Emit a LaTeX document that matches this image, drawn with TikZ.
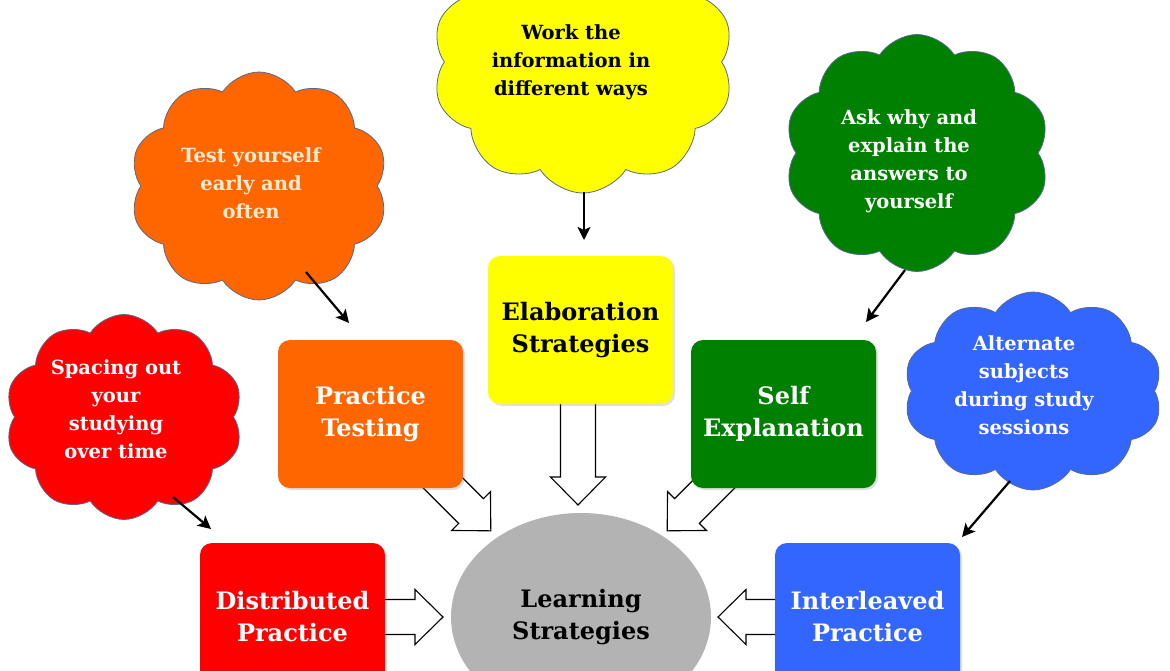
\documentclass[tikz,border=0pt]{standalone}
\usepackage{fontspec}
\setmainfont{DejaVu Serif}
\usetikzlibrary{shapes.symbols,shapes.geometric,arrows.meta,shadows}
\definecolor{cOrange}{RGB}{255,102,0}
\definecolor{cYellow}{RGB}{255,255,0}
\definecolor{cGreen}{RGB}{0,128,0}
\definecolor{cRed}{RGB}{255,0,0}
\definecolor{cBlue}{RGB}{51,102,255}
\definecolor{cGray}{RGB}{179,179,179}
\definecolor{cloudline}{RGB}{85,105,140}
\definecolor{cream}{RGB}{255,236,210}
\tikzset{
 box/.style={rectangle, rounded corners=12pt, minimum width=185pt, minimum height=148pt,
   inner sep=0pt, align=center, font=\bfseries\fontsize{24}{32}\selectfont, text=white,
   drop shadow={opacity=0.25,shadow xshift=2pt,shadow yshift=-2pt}},
 cloudshape/.style={cloud, cloud puffs=10, cloud puff arc=115, cloud ignores aspect,
   draw=cloudline, line width=0.8pt, inner sep=0pt},
 cloudtext/.style={align=center, font=\bfseries\fontsize{19.5}{28}\selectfont, inner sep=0pt},
 thinarrow/.style={draw=black, line width=2.2pt, -{Stealth[length=13pt,width=13pt,inset=3pt]}},
 pics/blockarrow/.style={code={\draw[line width=1.1pt, fill=white, line join=miter]
   (0,-17.5) -- ({#1-28},-17.5) -- ({#1-28},-27.5) -- (#1,0) -- ({#1-28},27.5) -- ({#1-28},17.5) -- (0,17.5);}},
}
\begin{document}
\begin{tikzpicture}[x=1pt,y=1pt]
\useasboundingbox (0,0) rectangle (1170,-670);
\clip (0,0) rectangle (1170,-670);
\fill[white] (0,0) rectangle (1170,-670);

% block arrows
\pic at (578,-398) [rotate=-90] {blockarrow=107};
\pic at (430,-470) [rotate=-45] {blockarrow=86};
\pic at (728,-470) [rotate=-135] {blockarrow=86};
\pic at (380,-617) {blockarrow=63};
\pic at (780,-617) [rotate=180] {blockarrow=62};

% boxes
\node[box, fill=cOrange] (pt) at (370.5,-414) {Practice\\Testing};
\node[box, fill=cYellow, text=black] (el) at (580.5,-330) {Elaboration\\Strategies};
\node[box, fill=cGreen] (se) at (783.5,-414) {Self\\Explanation};
\node[box, fill=cRed] (dp) at (292.5,-617) {Distributed\\Practice};
\node[box, fill=cBlue] (ip) at (867.5,-617) {Interleaved\\Practice};
\node[ellipse, fill=cGray, minimum width=260pt, minimum height=208pt, inner sep=0pt,
   align=center, font=\bfseries\fontsize{24}{32}\selectfont] (ls) at (581,-617) {Learning\\Strategies};

% clouds
\node[cloudshape, fill=cOrange, minimum width=258pt, minimum height=228pt] (c1) at (259,-186) {};
\node[cloudtext, text=cream] (t1) at (251,-183) {Test yourself\\early and\\often};
\node[cloudshape, fill=cYellow, minimum width=302pt, minimum height=262pt] (c2) at (583,-62) {};
\node[cloudtext, text=black] (t2) at (571,-62) {Work the\\information in\\different ways};
\node[cloudshape, fill=cGreen, minimum width=265pt, minimum height=237pt] (c3) at (917,-153) {};
\node[cloudtext, text=white] (t3) at (909,-161) {Ask why and\\explain the\\answers to\\yourself};
\node[cloudshape, fill=cRed, minimum width=238pt, minimum height=205pt] (c4) at (124,-417) {};
\node[cloudtext, text=white] (t4) at (116,-409) {Spacing out\\your\\studying\\over time};
\node[cloudshape, fill=cBlue, minimum width=259pt, minimum height=198pt] (c5) at (1033,-391) {};
\node[cloudtext, text=white] (t5) at (1024,-385) {Alternate\\subjects\\during study\\sessions};

% thin arrows
\coordinate (a1s) at (306,-272); \coordinate (a1e) at (349,-323);
\coordinate (a2s) at (584,-192); \coordinate (a2e) at (584,-240);
\coordinate (a3s) at (905,-270); \coordinate (a3e) at (866,-322);
\coordinate (a4s) at (173,-497); \coordinate (a4e) at (211,-529);
\coordinate (a5s) at (1010,-481); \coordinate (a5e) at (962,-537);
\draw[thinarrow] (a1s) -- (a1e);
\draw[thinarrow] (a2s) -- (a2e);
\draw[thinarrow] (a3s) -- (a3e);
\draw[thinarrow] (a4s) -- (a4e);
\draw[thinarrow] (a5s) -- (a5e);
\end{tikzpicture}
\end{document}
